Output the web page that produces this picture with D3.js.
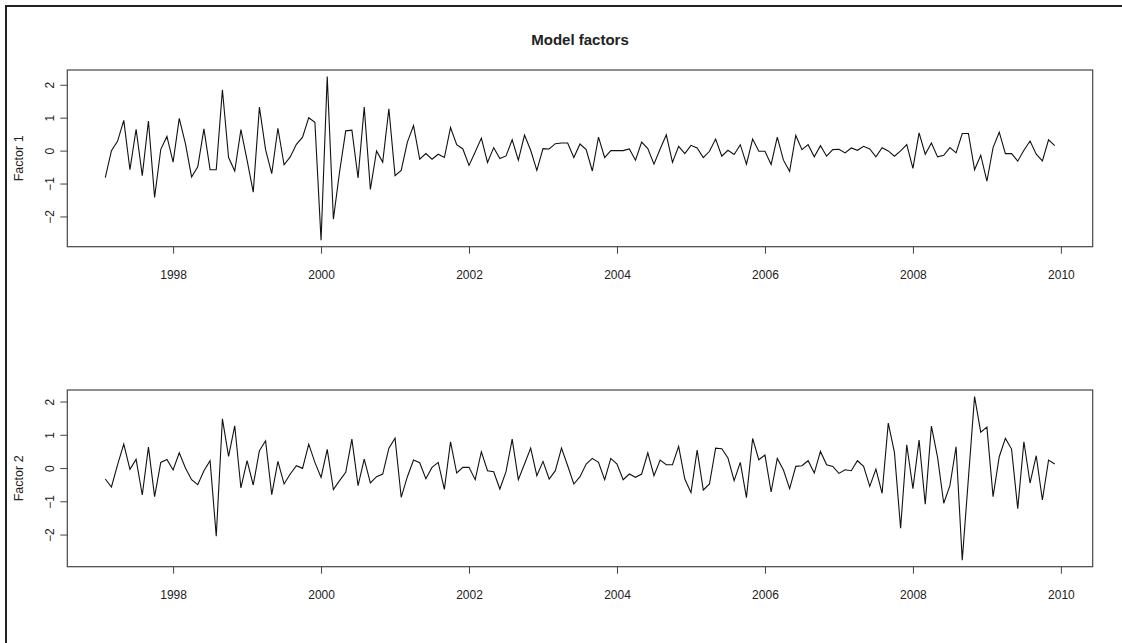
<!DOCTYPE html>
<html>
<head>
<meta charset="utf-8">
<script src="https://cdn.jsdelivr.net/npm/d3@7"></script>
<style>
  body { margin: 0; background: #fff; }
  text { font-family: "Liberation Sans", Arial, sans-serif; }
</style>
</head>
<body>
<div id="factors"></div>
<script>
// monthly series, Feb 1997 .. Dec 2009
var startYear = 1997, startMonth = 2;
var xTicks = [1998, 2000, 2002, 2004, 2006, 2008, 2010];
var yTicks = [-2, -1, 0, 1, 2];
var labels = ["Factor 1", "Factor 2"];
var title = "Model factors";

var factor1 = [
  -0.82, 0.00, 0.29, 0.92, -0.58, 0.65, -0.76, 0.90, -1.42, 0.04, 0.43, -0.35,
  0.98, 0.21, -0.80, -0.49, 0.66, -0.58, -0.58, 1.85, -0.21, -0.62, 0.64, -0.29,
  -1.26, 1.32, 0.03, -0.70, 0.68, -0.43, -0.19, 0.19, 0.41, 1.00, 0.86, -2.72,
  2.25, -2.08, -0.65, 0.60, 0.62, -0.83, 1.32, -1.18, -0.01, -0.35, 1.27, -0.76,
  -0.60, 0.26, 0.76, -0.26, -0.09, -0.26, -0.11, -0.21, 0.70, 0.18, 0.05, -0.45,
  -0.04, 0.38, -0.36, 0.09, -0.24, -0.16, 0.33, -0.29, 0.47, 0.01, -0.60, 0.06,
  0.05, 0.21, 0.23, 0.23, -0.21, 0.20, 0.03, -0.62, 0.41, -0.21, 0.00, 0.00,
  0.00, 0.05, -0.29, 0.26, 0.06, -0.41, 0.05, 0.48, -0.36, 0.13, -0.09, 0.16,
  0.08, -0.21, -0.02, 0.35, -0.17, 0.01, -0.12, 0.18, -0.41, 0.35, -0.02, -0.02,
  -0.42, 0.41, -0.29, -0.63, 0.46, 0.03, 0.18, -0.19, 0.15, -0.17, 0.03, 0.04,
  -0.07, 0.08, 0.01, 0.13, 0.05, -0.19, 0.09, -0.01, -0.17, -0.01, 0.18, -0.54,
  0.54, -0.11, 0.23, -0.19, -0.14, 0.09, -0.07, 0.52, 0.52, -0.58, -0.14, -0.93,
  0.09, 0.56, -0.09, -0.09, -0.32, 0.01, 0.29, -0.11, -0.31, 0.33, 0.15
];

var factor2 = [
  -0.33, -0.57, 0.10, 0.72, -0.04, 0.26, -0.81, 0.63, -0.86, 0.17, 0.26, -0.06,
  0.46, 0.00, -0.35, -0.50, -0.08, 0.22, -2.05, 1.48, 0.35, 1.27, -0.60, 0.22,
  -0.51, 0.52, 0.82, -0.80, 0.20, -0.48, -0.18, 0.07, -0.01, 0.72, 0.17, -0.28,
  0.56, -0.65, -0.38, -0.13, 0.87, -0.53, 0.27, -0.45, -0.26, -0.18, 0.60, 0.90,
  -0.88, -0.26, 0.24, 0.16, -0.32, 0.02, 0.17, -0.64, 0.79, -0.15, 0.02, 0.02,
  -0.35, 0.49, -0.08, -0.11, -0.63, -0.11, 0.87, -0.35, 0.12, 0.60, -0.23, 0.20,
  -0.33, -0.08, 0.60, 0.07, -0.48, -0.26, 0.12, 0.29, 0.17, -0.35, 0.29, 0.12,
  -0.35, -0.18, -0.28, -0.18, 0.46, -0.23, 0.24, 0.10, 0.10, 0.65, -0.33, -0.74,
  0.54, -0.66, -0.48, 0.60, 0.58, 0.30, -0.38, 0.17, -0.89, 0.89, 0.25, 0.39,
  -0.72, 0.29, -0.06, -0.62, 0.05, 0.07, 0.22, -0.15, 0.50, 0.10, 0.05, -0.16,
  -0.05, -0.08, 0.22, 0.05, -0.55, -0.03, -0.76, 1.35, 0.47, -1.81, 0.70, -0.62,
  0.84, -1.09, 1.26, 0.32, -1.06, -0.53, 0.64, -2.77, -0.31, 2.15, 1.08, 1.23,
  -0.86, 0.34, 0.89, 0.57, -1.22, 0.79, -0.45, 0.37, -0.96, 0.24, 0.12
];

var W = 1122, H = 643, panelH = 320;
var margin = { top: 70, right: 29.3, bottom: 73.3, left: 67.3 },
  width = W - margin.left - margin.right,
  height = panelH - margin.top - margin.bottom;

var svg = d3.select("#factors")
  .append("svg")
  .attr("width", W)
  .attr("height", H);

// frame edges
svg.append("line").attr("x1", 6).attr("x2", W).attr("y1", 6).attr("y2", 6)
  .attr("stroke", "#222").attr("stroke-width", 2);
svg.append("line").attr("x1", 6).attr("x2", 6).attr("y1", 5).attr("y2", H)
  .attr("stroke", "#222").attr("stroke-width", 2);

function toYear(i) { return startYear + (startMonth - 1 + i) / 12; }

// R style 4% padding on both axes
function padded(ext) {
  var r = ext[1] - ext[0];
  return [ext[0] - 0.04 * r, ext[1] + 0.04 * r];
}

var xExt = [toYear(0), toYear(factor1.length - 1)];
var x = d3.scaleLinear().domain(padded(xExt)).range([0, width]);

[factor1, factor2].forEach(function (series, k) {
  var g = svg.append("g")
    .attr("transform", "translate(" + margin.left + "," + (k * panelH + margin.top) + ")");

  var y = d3.scaleLinear()
    .domain(padded(d3.extent(series)))
    .range([height, 0]);

  var xAxis = g.append("g")
    .attr("transform", "translate(0," + height + ")")
    .call(d3.axisBottom(x).tickValues(xTicks).tickFormat(d3.format("d")).tickSize(7).tickSizeOuter(0));
  xAxis.select(".domain").remove();
  xAxis.selectAll("line").attr("stroke", "#444");
  xAxis.selectAll("text").attr("fill", "#222").style("font-size", "12px").attr("dy", "1.85em");

  var yAxis = g.append("g")
    .call(d3.axisLeft(y).tickValues(yTicks).tickFormat(d3.format("d")).tickSize(7).tickSizeOuter(0));
  yAxis.select(".domain").remove();
  yAxis.selectAll("line").attr("stroke", "#444");
  yAxis.selectAll("text")
    .attr("fill", "#222")
    .style("font-size", "12px")
    .attr("text-anchor", "middle")
    .attr("x", 0).attr("dy", 0)
    .attr("transform", "translate(-13.5,0) rotate(-90)");

  g.append("rect")
    .attr("width", width).attr("height", height)
    .attr("fill", "none").attr("stroke", "#444").attr("stroke-width", 1.2);

  g.append("text")
    .attr("transform", "rotate(-90)")
    .attr("x", -height / 2)
    .attr("y", -44)
    .attr("text-anchor", "middle")
    .attr("fill", "#222")
    .style("font-size", "12.5px")
    .text(labels[k]);

  var line = d3.line()
    .x(function (d, i) { return x(toYear(i)); })
    .y(function (d) { return y(d); });

  g.append("path")
    .datum(series)
    .attr("fill", "none")
    .attr("stroke", "#111")
    .attr("stroke-width", 1.1)
    .attr("d", line);

  if (k == 0) {
    g.append("text")
      .attr("x", width / 2)
      .attr("y", -25)
      .attr("text-anchor", "middle")
      .attr("fill", "#222")
      .style("font-size", "15px")
      .style("font-weight", "bold")
      .text(title);
  }
});
</script>
</body>
</html>
